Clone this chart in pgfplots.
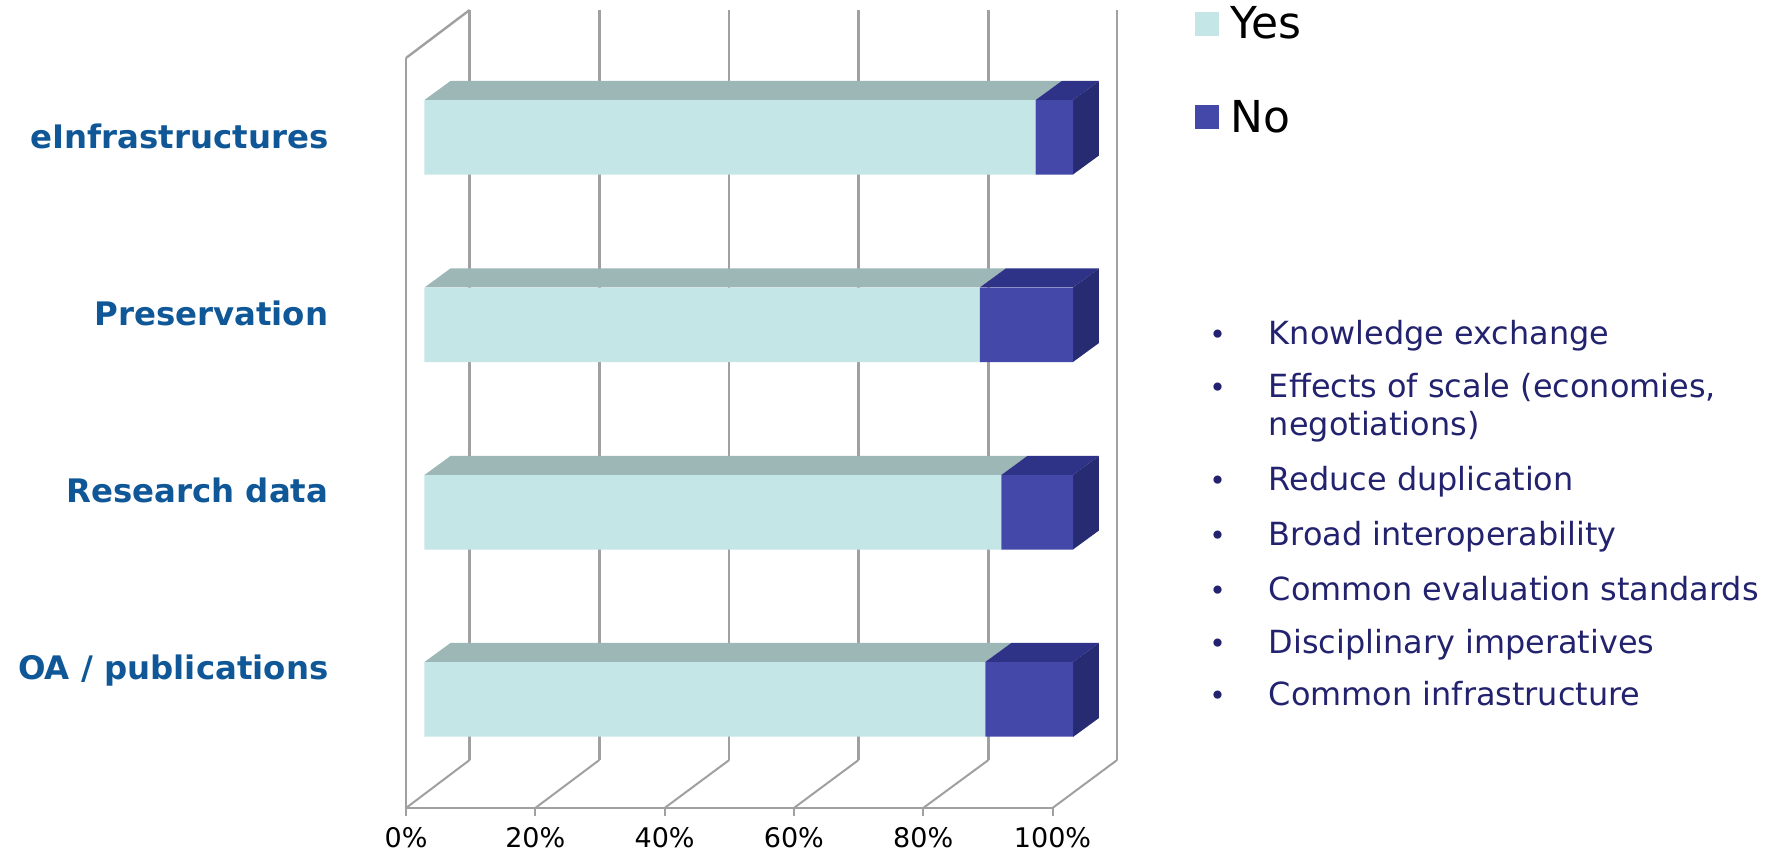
\documentclass[border=0pt]{standalone}
\usepackage{fontspec}
\setmainfont{DejaVu Sans}
\usepackage{pgfplots}
\usepackage{pgfplotstable}
\pgfplotsset{compat=1.18}

\definecolor{framegray}{HTML}{A0A0A0}
\definecolor{yesfront}{HTML}{C5E6E6}
\definecolor{yestop}{HTML}{9DB7B7}
\definecolor{nofront}{HTML}{4448A8}
\definecolor{notop}{HTML}{2F3388}
\definecolor{noside}{HTML}{272B72}
\definecolor{labelblue}{HTML}{0F5796}
\definecolor{listblue}{HTML}{22226E}

% y = height of the bar's middle, x = share of each part
\pgfplotstableread{
y     offset yes    no
154.5 2.86   86.76  13.57
341.7 2.86   89.22  11.09
529.2 2.86   85.89  14.42
716.7 2.86   94.54  5.77
}\bardata

% top, back top, bottom, back bottom, split, back split
\newcommand{\depthfaces}[6]{%
  \addplot[fill=yestop,draw=none,forget plot] coordinates {(2.86,#1)(6.88,#2)(#6,#2)(#5,#1)} --cycle;
  \addplot[fill=notop,draw=none,forget plot] coordinates {(#5,#1)(#6,#2)(107.19,#2)(103.17,#1)} --cycle;
  \addplot[fill=noside,draw=none,forget plot] coordinates {(103.17,#1)(107.19,#2)(107.19,#4)(103.17,#3)} --cycle;
}
% one gridline: floor diagonal and back wall
\newcommand{\gridline}[2]{%
  \addplot[framegray,line width=1pt,forget plot] coordinates {(#1,46)(#2,94)};
  \addplot[framegray,line width=1.2pt,forget plot] coordinates {(#2,94)(#2,844)};
}

\begin{document}
\begin{tikzpicture}
  \path[use as bounding box] (0,0) rectangle (888pt,427pt);
  \begin{axis}[
    at={(203pt,23pt)},
    anchor=south west,
    scale only axis,
    width=323.25pt,
    height=375pt,
    xmin=0, xmax=100,
    ymin=46, ymax=796,
    clip=false,
    axis x line*=bottom,
    axis y line*=left,
    axis line style={framegray,line width=1.2pt},
    xtick={0,20,40,60,80,100},
    xticklabels={0\%,20\%,40\%,60\%,80\%,100\%},
    ytick={183,363.5,541,718},
    yticklabels={OA / publications,Research data,Preservation,eInfrastructures},
    tick align=outside,
    major tick length=4pt,
    x tick style={framegray,line width=1pt},
    y tick style={draw=none},
    x tick label style={font=\fontsize{13.5}{15}\selectfont,yshift=-2pt},
    y tick label style={font=\fontsize{16.2}{18}\selectfont\bfseries,text=labelblue,xshift=-31.3pt},
    bar/.style={xbar stacked,bar width=37.25pt,bar shift=0pt,draw=none},
    legend style={at={(axis cs:122,847.5)},anchor=north west,draw=none,fill=none,inner sep=0pt,
      font=\fontsize{22}{24}\selectfont,row sep=29pt,
      nodes={inner sep=0pt,outer sep=0pt},
      /tikz/every odd column/.append style={column sep=5.5pt}},
    legend cell align=left,
  ]
    \addplot[framegray,line width=1.2pt,forget plot] coordinates {(0,796)(9.85,844)};
    \gridline{0}{9.85}
    \gridline{20}{29.9}
    \gridline{40}{50}
    \gridline{60}{70}
    \gridline{80}{90.1}
    \gridline{100}{110}

    \depthfaces{754}{773}{679.5}{698.5}{97.4}{101.42}
    \depthfaces{566.5}{585.5}{492}{511}{88.75}{92.77}
    \depthfaces{379}{398}{304.5}{323.5}{92.08}{96.1}
    \depthfaces{192}{211}{117}{136}{89.6}{93.62}

    \addplot[bar,fill=none,forget plot] table[x=offset,y=y] {\bardata};
    \addplot[bar,fill=yesfront,legend image code/.code={\fill[yesfront] (0,-6pt) rectangle (12pt,6pt);}] table[x=yes,y=y] {\bardata};
    \addplot[bar,fill=nofront,legend image code/.code={\fill[nofront] (0,-6pt) rectangle (12pt,6pt);}] table[x=no,y=y] {\bardata};
    \legend{Yes,No}
  \end{axis}
  \begin{scope}[x=0.5pt,y=-0.5pt,yshift=427pt,
      every node/.style={anchor=base west,inner sep=0pt,text=listblue,font=\fontsize{15.95}{18}\selectfont}]
    \foreach \y in {345,398,491,546,601,654,706}
      \node[font=\fontsize{14}{16}\selectfont] at (1209,\y) {•};
    \node at (1268.5,345) {Knowledge exchange};
    \node at (1268.5,398) {Effects of scale (economies,};
    \node at (1268.5,436) {negotiations)};
    \node at (1268.5,491) {Reduce duplication};
    \node at (1268.5,546) {Broad interoperability};
    \node at (1268.5,601) {Common evaluation standards};
    \node at (1268.5,654) {Disciplinary imperatives};
    \node at (1268.5,706) {Common infrastructure};
  \end{scope}
\end{tikzpicture}
\end{document}
